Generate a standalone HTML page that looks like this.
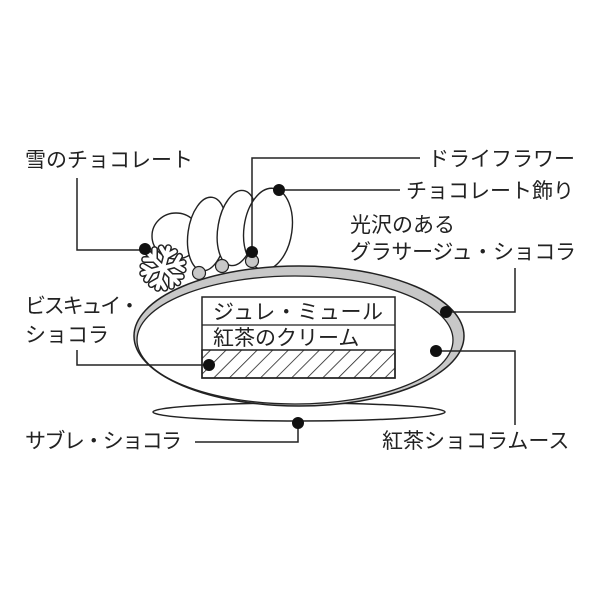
<!DOCTYPE html>
<html><head><meta charset="utf-8"><style>
html,body{margin:0;padding:0;background:#fff}
svg{display:block}
text{font-family:"Liberation Sans","Noto Sans CJK JP",sans-serif;font-size:21px;fill:#222}
</style></head><body>
<svg width="600" height="600" viewBox="0 0 600 600" xmlns="http://www.w3.org/2000/svg">
<defs>
<pattern id="h" width="11" height="11" patternUnits="userSpaceOnUse" patternTransform="rotate(45)">
<line x1="0" y1="0" x2="0" y2="11" stroke="#222" stroke-width="1.6"/>
</pattern>
<g id="arm">
<line x1="0" y1="0" x2="0" y2="-21"/>
<polyline points="-7,-19 0,-12 7,-19"/>
</g>
<g id="flake">
<use href="#arm"/>
<use href="#arm" transform="rotate(60)"/>
<use href="#arm" transform="rotate(120)"/>
<use href="#arm" transform="rotate(180)"/>
<use href="#arm" transform="rotate(240)"/>
<use href="#arm" transform="rotate(300)"/>
</g>
</defs>
<!-- bottom sable -->
<ellipse cx="299" cy="412" rx="146" ry="9" fill="#fff" stroke="#222" stroke-width="1.5"/>
<!-- shells -->
<g fill="#fff" stroke="#222" stroke-width="1.4">
<ellipse cx="176" cy="236" rx="24" ry="23"/>
<ellipse cx="207" cy="234" rx="19" ry="37" transform="rotate(8 207 234)"/>
<ellipse cx="237" cy="228" rx="19" ry="38" transform="rotate(10 237 228)"/>
<ellipse cx="268" cy="229" rx="24" ry="41" transform="rotate(8 268 229)"/>
</g>
<g fill="#c8c8c8" stroke="#222" stroke-width="1.2">
<circle cx="199" cy="273" r="6.5"/>
<circle cx="222" cy="266" r="6.5"/>
<circle cx="252" cy="261" r="6.5"/>
</g>
<!-- main mousse -->
<ellipse cx="299" cy="336" rx="165" ry="70" fill="#c8c8c8" stroke="#222" stroke-width="1.5"/>
<ellipse cx="295" cy="340" rx="158" ry="64" fill="#fff" stroke="#222" stroke-width="1.3"/>
<!-- snowflake -->
<g transform="translate(163 268) rotate(15)" fill="none" stroke-linecap="round" stroke-linejoin="round">
<use href="#flake" stroke="#222" stroke-width="7"/>
<use href="#flake" stroke="#fff" stroke-width="4"/>
</g>
<!-- layers -->
<rect x="202" y="297" width="193" height="81" fill="#fff" stroke="#222" stroke-width="1.5"/>
<line x1="202" y1="325" x2="395" y2="325" stroke="#222" stroke-width="1.3"/>
<rect x="202" y="350" width="193" height="28" fill="url(#h)" stroke="#222" stroke-width="1.5"/>
<text x="213" y="319" textLength="170">ジュレ・ミュール</text>
<text x="213" y="345">紅茶のクリーム</text>
<!-- leaders -->
<g fill="none" stroke="#222" stroke-width="1.5">
<polyline points="77,178 77,250 145,250"/>
<polyline points="252,252 252,158 420,158"/>
<polyline points="279,190 400,190"/>
<polyline points="446,312 515,312 515,268"/>
<polyline points="436,351 515,351 515,425"/>
<polyline points="77,350 77,365 209,365"/>
<polyline points="195,442 298,442 298,423"/>
</g>
<g fill="#111">
<circle cx="145" cy="249" r="6"/>
<circle cx="252" cy="252" r="6"/>
<circle cx="279" cy="190" r="6"/>
<circle cx="446" cy="312" r="6"/>
<circle cx="436" cy="351" r="6"/>
<circle cx="209" cy="365" r="6"/>
<circle cx="298" cy="423" r="6"/>
</g>
<!-- labels -->
<text x="25" y="167">雪のチョコレート</text>
<text x="428" y="166">ドライフラワー</text>
<text x="406" y="198">チョコレート飾り</text>
<text x="350" y="232">光沢のある</text>
<text x="350" y="259" textLength="226">グラサージュ・ショコラ</text>
<text x="25" y="313" textLength="115">ビスキュイ・</text>
<text x="25" y="342">ショコラ</text>
<text x="25" y="448" textLength="157">サブレ・ショコラ</text>
<text x="382" y="448">紅茶ショコラムース</text>
</svg>
</body></html>
